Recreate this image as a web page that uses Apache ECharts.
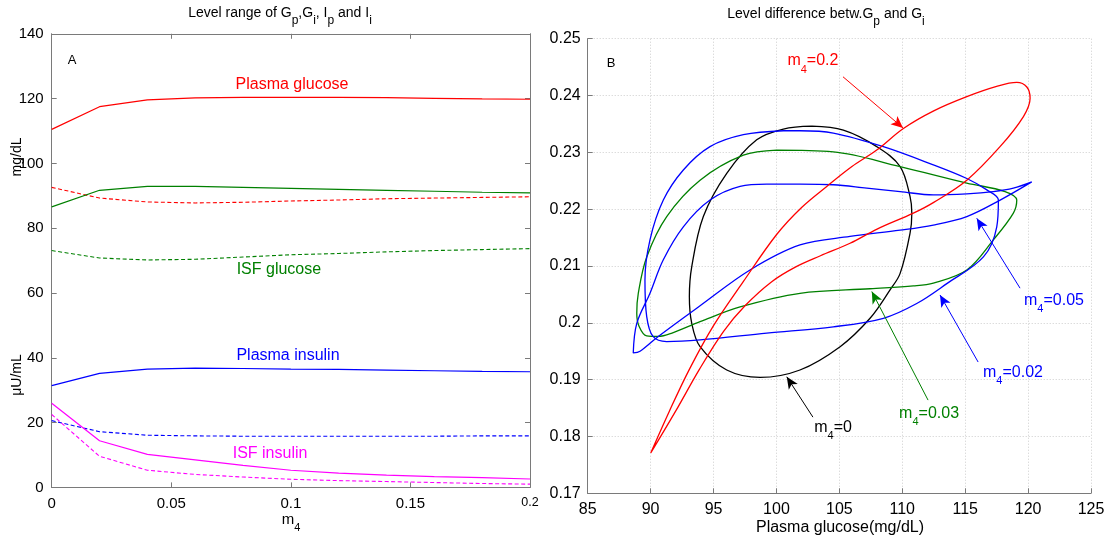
<!DOCTYPE html>
<html>
<head>
<meta charset="utf-8">
<script src="https://cdn.jsdelivr.net/npm/echarts@6/dist/echarts.min.js"></script>
<style>
  html, body { margin: 0; padding: 0; background: #ffffff; }
  #main { width: 1109px; height: 541px; }
</style>
</head>
<body>
<div id="main"></div>
<script>
const FONT = '"Liberation Sans", Arial, Helvetica, sans-serif';

// ---------- Panel A: levels against m4 ----------
const m4Values = [0, 0.02, 0.04, 0.06, 0.08, 0.10, 0.12, 0.14, 0.16, 0.18, 0.20];
const plasmaGlucose      = [110.5, 117.5, 119.6, 120.2, 120.4, 120.4, 120.4, 120.3, 120.1, 119.9, 119.8];
const plasmaGlucoseLow   = [92.6, 89.3, 88.1, 87.8, 88.0, 88.4, 88.7, 89.1, 89.3, 89.5, 89.7];
const isfGlucose         = [86.6, 91.7, 92.9, 92.9, 92.6, 92.3, 92.0, 91.7, 91.4, 91.1, 90.9];
const isfGlucoseLow      = [73.1, 70.8, 70.2, 70.4, 71.1, 71.8, 72.2, 72.7, 73.1, 73.4, 73.7];
const plasmaInsulin      = [31.4, 35.2, 36.5, 36.8, 36.7, 36.5, 36.4, 36.2, 36.0, 35.8, 35.7];
const plasmaInsulinLow   = [20.6, 17.2, 16.1, 15.9, 15.8, 15.8, 15.8, 15.8, 15.8, 15.9, 15.9];
const isfInsulin         = [26.0, 14.4, 10.2, 8.5, 6.8, 5.3, 4.4, 3.8, 3.3, 3.0, 2.6];
const isfInsulinLow      = [22.5, 9.6, 5.3, 4.0, 3.2, 2.5, 2.1, 1.8, 1.5, 1.2, 1.0];

const curveNamesA = ['Plasma glucose', 'ISF glucose', 'Plasma insulin', 'ISF insulin'];

// ---------- Panel B: plasma glucose vs level difference, one loop per m4 ----------
const loopM0 = [
  [102.81, 0.2346], [105.32, 0.2339], [107.97, 0.2310], [109.83, 0.2275], [110.62, 0.2222],
  [110.76, 0.2193], [110.62, 0.2158], [109.83, 0.2087], [109.03, 0.2058], [107.44, 0.2008],
  [105.06, 0.1958], [101.87, 0.1917], [98.70, 0.1904], [96.05, 0.1917], [93.93, 0.1958],
  [93.27, 0.1999], [93.08, 0.2046], [93.27, 0.2099], [94.19, 0.2187], [96.05, 0.2263],
  [98.43, 0.2322], [100.55, 0.2341], [102.81, 0.2346]
];
const loopM002 = [
  [100.55, 0.2338], [97.37, 0.2331], [94.72, 0.2310], [92.60, 0.2269], [91.01, 0.2216],
  [89.95, 0.2146], [89.55, 0.2075], [89.69, 0.2011], [90.19, 0.1976], [91.28, 0.1967],
  [93.93, 0.1970], [99.23, 0.1982], [104.52, 0.1993], [108.50, 0.2008], [111.15, 0.2034],
  [113.54, 0.2069], [116.45, 0.2116], [117.51, 0.2169], [117.64, 0.2216], [116.72, 0.2234],
  [115.13, 0.2254], [112.47, 0.2278], [108.50, 0.2310], [104.52, 0.2334], [101.87, 0.2338],
  [100.55, 0.2338]
];
const loopM003 = [
  [100.02, 0.2304], [104.52, 0.2301], [109.83, 0.2275], [115.13, 0.2246], [118.17, 0.2231],
  [119.10, 0.2216], [118.83, 0.2193], [117.24, 0.2146], [115.13, 0.2093], [112.47, 0.2070],
  [110.88, 0.2065], [107.44, 0.2060], [101.87, 0.2052], [97.11, 0.2028], [93.93, 0.2002],
  [91.70, 0.1982], [90.61, 0.1976], [89.69, 0.1977], [89.08, 0.1994], [88.90, 0.2017],
  [89.02, 0.2052], [89.69, 0.2116], [91.28, 0.2187], [93.93, 0.2251], [97.37, 0.2295],
  [100.02, 0.2304]
];
const loopM005 = [
  [120.29, 0.2248], [118.83, 0.2237], [117.24, 0.2231], [115.13, 0.2227], [112.47, 0.2225],
  [109.83, 0.2231], [107.18, 0.2237], [104.52, 0.2243], [101.87, 0.2244], [99.23, 0.2244],
  [97.11, 0.2240], [94.72, 0.2216], [92.60, 0.2169], [91.01, 0.2111], [89.95, 0.2052],
  [88.90, 0.1999], [88.62, 0.1947], [89.16, 0.1950], [90.61, 0.1976], [93.93, 0.2030],
  [97.90, 0.2093], [101.87, 0.2137], [105.85, 0.2152], [109.83, 0.2163], [112.47, 0.2172],
  [115.13, 0.2187], [117.78, 0.2216], [120.29, 0.2248]
];
const loopM02 = [
  [90.01, 0.1771], [91.50, 0.1845], [93.10, 0.1919], [95.00, 0.1995], [97.35, 0.2072],
  [100.00, 0.2155], [102.00, 0.2203], [104.00, 0.2240], [106.00, 0.2275], [107.97, 0.2304],
  [110.09, 0.2342], [112.50, 0.2373], [115.13, 0.2398], [117.50, 0.2416], [119.10, 0.2423],
  [119.90, 0.2415], [120.16, 0.2395], [119.63, 0.2363], [117.77, 0.2310], [115.13, 0.2251],
  [112.50, 0.2212], [110.88, 0.2193], [108.00, 0.2165], [105.85, 0.2140], [103.50, 0.2118],
  [101.50, 0.2098], [99.60, 0.2072], [97.50, 0.2030], [95.80, 0.1985], [93.90, 0.1919],
  [92.00, 0.1845], [90.01, 0.1771]
];

// Callouts for the loops: label centre, arrow tail, arrow head (data coordinates)
const loopCallouts = [
  { m4: '0.2',  color: '#ff0000', label: [102.90, 0.2461], from: [105.29, 0.2433], to: [110.06, 0.2343] },
  { m4: '0.05', color: '#0000ff', label: [122.06, 0.2040], from: [119.36, 0.2061], to: [115.92, 0.2184] },
  { m4: '0.02', color: '#0000ff', label: [118.80, 0.1913], from: [116.03, 0.1931], to: [113.00, 0.2049] },
  { m4: '0.03', color: '#008000', label: [112.13, 0.1841], from: [112.05, 0.1864], to: [107.58, 0.2055] },
  { m4: '0',    color: '#000000', label: [104.50, 0.1816], from: [102.90, 0.1834], to: [100.82, 0.1905] }
];

// Text anchors for the panel A curve names (data coordinates)
const curveLabelsA = [
  { name: curveNamesA[0], color: '#ff0000', at: [0.1005, 124.2] },
  { name: curveNamesA[1], color: '#008000', at: [0.0950, 67.3] },
  { name: curveNamesA[2], color: '#0000ff', at: [0.0988, 40.8] },
  { name: curveNamesA[3], color: '#ff00ff', at: [0.0913, 10.5] }
];

const zip = (xs, ys) => xs.map((x, i) => [x, ys[i]]);

const AXIS_GREY = '#7a7a7a';
const GRID_DOTS = { color: '#cdcdcd', type: [1, 2], width: 1 };

function axisBase(extra) {
  return Object.assign({
    type: 'value',
    axisLine: { show: true, onZero: false, lineStyle: { color: AXIS_GREY, width: 1 } },
    axisTick: { show: true, inside: true, length: 5, lineStyle: { color: AXIS_GREY } },
    splitLine: { show: false },
    axisLabel: { show: false }
  }, extra);
}

function lineA(values, color, dashed) {
  return {
    type: 'line', xAxisIndex: 0, yAxisIndex: 0,
    data: zip(m4Values, values),
    symbol: 'none', smooth: false, silent: true,
    lineStyle: { color: color, width: dashed ? 1.1 : 1.2, type: dashed ? [4, 2.5] : 'solid' },
    z: 3
  };
}

function loopB(points, color, m4) {
  const c = loopCallouts.find(d => d.m4 === m4);
  return {
    type: 'line', xAxisIndex: 2, yAxisIndex: 2,
    data: points,
    symbol: 'none', smooth: 0.35, silent: true,
    lineStyle: { color: color, width: 1.3 },
    markLine: {
      silent: true,
      symbol: ['none', 'arrow'],
      symbolSize: [8, 12],
      label: { show: false },
      lineStyle: { color: color, width: 1, type: 'solid' },
      emphasis: { disabled: true },
      data: [[{ coord: c.from }, { coord: c.to }]]
    },
    z: 3
  };
}

const chart = echarts.init(document.getElementById('main'), null, { renderer: 'canvas' });

const option = {
  animation: false,
  backgroundColor: '#ffffff',
  textStyle: { fontFamily: FONT },
  grid: [
    { left: 51.7, top: 33.8, width: 478.3, height: 453.6, show: false, outerBoundsMode: 'none' },
    { left: 587.7, top: 38.7, width: 503.3, height: 454.6, show: false, outerBoundsMode: 'none' }
  ],
  xAxis: [
    axisBase({
      gridIndex: 0, position: 'bottom', min: 0, max: 0.2, interval: 0.05,
      axisLabel: {
        show: true, color: '#000', fontSize: 15, fontFamily: FONT, margin: 9,
        formatter: v => (Math.abs(v - 0.2) < 1e-9 ? '{s|0.2}' : String(+v.toFixed(2))),
        rich: { s: { fontSize: 12.5, fontFamily: FONT, color: '#000' } }
      }
    }),
    axisBase({ gridIndex: 0, position: 'top', min: 0, max: 0.2, interval: 0.05 }),
    axisBase({
      gridIndex: 1, position: 'bottom', min: 85, max: 125, interval: 5,
      axisLabel: { show: true, color: '#000', fontSize: 16, fontFamily: FONT, margin: 8 },
      splitLine: { show: true, lineStyle: GRID_DOTS }
    }),
    axisBase({
      gridIndex: 1, position: 'top', min: 85, max: 125, interval: 5,
      axisLine: { show: false }, axisTick: { show: false }
    })
  ],
  yAxis: [
    axisBase({
      gridIndex: 0, position: 'left', min: 0, max: 140, interval: 20,
      axisLabel: { show: true, color: '#000', fontSize: 15, fontFamily: FONT, margin: 8 }
    }),
    axisBase({ gridIndex: 0, position: 'right', min: 0, max: 140, interval: 20 }),
    axisBase({
      gridIndex: 1, position: 'left', min: 0.17, max: 0.25, interval: 0.01,
      axisLabel: {
        show: true, color: '#000', fontSize: 16, fontFamily: FONT, margin: 7,
        formatter: v => String(+v.toFixed(2))
      },
      splitLine: { show: true, lineStyle: GRID_DOTS }
    }),
    axisBase({
      gridIndex: 1, position: 'right', min: 0.17, max: 0.25, interval: 0.01,
      axisLine: { show: false }, axisTick: { show: false }
    })
  ],
  series: [
    lineA(plasmaGlucose, '#ff0000', false),
    lineA(plasmaGlucoseLow, '#ff0000', true),
    lineA(isfGlucose, '#008000', false),
    lineA(isfGlucoseLow, '#008000', true),
    lineA(plasmaInsulin, '#0000ff', false),
    lineA(plasmaInsulinLow, '#0000ff', true),
    lineA(isfInsulin, '#ff00ff', false),
    lineA(isfInsulinLow, '#ff00ff', true),
    loopB(loopM0, '#000000', '0'),
    loopB(loopM003, '#008000', '0.03'),
    loopB(loopM002, '#0000ff', '0.02'),
    loopB(loopM005, '#0000ff', '0.05'),
    loopB(loopM02, '#ff0000', '0.2')
  ]
};

chart.setOption(option);

// Text with subscripts: every token is top-aligned in a line of height size + 2*drop;
// main tokens get a box of height `size`, subscript tokens a box of the full line height,
// so the subscript's centre sits `drop` pixels below the main text's centre.
function subscriptText(parts, size, subSize, drop, color) {
  const text = parts.map(p => (p.sub ? '{s|' + p.t + '}' : '{m|' + p.t + '}')).join('');
  const full = size + 2 * drop;
  return {
    text: text,
    rich: {
      m: { fontSize: size, fontFamily: FONT, fill: color, height: size, lineHeight: size, verticalAlign: 'top' },
      s: { fontSize: subSize, fontFamily: FONT, fill: color, height: full, lineHeight: full, verticalAlign: 'top' }
    }
  };
}

function richLabel(x, y, parts, size, subSize, drop, color, align) {
  const st = subscriptText(parts, size, subSize, drop, color);
  return {
    type: 'text', x: x, y: y + drop, silent: true,
    style: Object.assign(st, { align: align || 'center', verticalAlign: 'middle', fill: color, fontFamily: FONT, fontSize: size })
  };
}

function plainText(x, y, text, size, color, rotation) {
  return {
    type: 'text', x: x, y: y, rotation: rotation || 0, silent: true,
    style: { text: text, fontSize: size, fontFamily: FONT, fill: color, align: 'center', verticalAlign: 'middle' }
  };
}

const graphics = [];

// Panel titles
graphics.push(richLabel(280, 13, [
  { t: 'Level range of G' }, { t: 'p', sub: true }, { t: ',G' }, { t: 'i', sub: true },
  { t: ', I' }, { t: 'p', sub: true }, { t: ' and I' }, { t: 'i', sub: true }
], 14, 12, 8, '#000'));
graphics.push(richLabel(826, 14, [
  { t: 'Level difference betw.G' }, { t: 'p', sub: true }, { t: ' and G' }, { t: 'i', sub: true }
], 14, 12, 8, '#000'));

// Panel letters
graphics.push(plainText(72, 60, 'A', 13, '#000'));
graphics.push(plainText(611, 63, 'B', 13, '#000'));

// Panel A axis names
graphics.push(plainText(17, 157, 'mg/dL', 14, '#000', Math.PI / 2));
graphics.push(plainText(17, 375, 'μU/mL', 14, '#000', Math.PI / 2));
graphics.push(richLabel(291, 520, [{ t: 'm' }, { t: '4', sub: true }], 15, 11, 8, '#000'));

// Panel B axis name
graphics.push(plainText(840, 528, 'Plasma glucose(mg/dL)', 16, '#000'));

// Panel A curve names
curveLabelsA.forEach(d => {
  const p = chart.convertToPixel({ gridIndex: 0 }, d.at);
  graphics.push(plainText(p[0], p[1], d.name, 16, d.color));
});

// Panel B callout labels
loopCallouts.forEach(d => {
  const p = chart.convertToPixel({ gridIndex: 1 }, d.label);
  graphics.push(richLabel(p[0], p[1], [{ t: 'm' }, { t: '4', sub: true }, { t: '=' + d.m4 }], 16, 11, 9, d.color));
});

chart.setOption({ graphic: graphics });
</script>
</body>
</html>
